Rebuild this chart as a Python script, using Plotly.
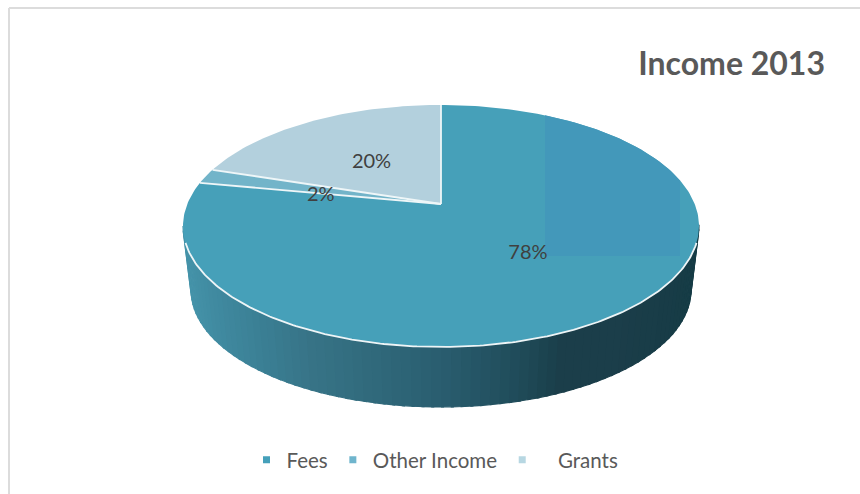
import numpy as np
import plotly.graph_objects as go

# ---- data ----
categories = ["Fees", "Other Income", "Grants"]
values = [78, 2, 20]
slice_colors = ["#46A0B9", "#72B4C9", "#B3D0DD"]
legend_colors = ["#45A0BA", "#6FB5CD", "#B7D7E2"]
legend_names = ["Fees", "Other Income", "\u00a0\u00a0\u00a0Grants"]
title_text = "Income 2013"

# ---- perspective geometry of the drawing (pixel-like axes) ----
CX, APEX_Y = 441.0, 204.0
A, B, K = 253.7, 117.0, 0.1818
DEPTH_CY, DEPTH_RX, DEPTH_RY = 290.0, 250.0, 117.0
FONT = "Lato, Carlito, 'Open Sans', sans-serif"


def project(frac, r=1.0):
    """Percent-of-circle (clockwise from 12 o'clock) to plot coordinates."""
    a = np.asarray(frac) * 2 * np.pi
    u, v = r * np.sin(a), r * np.cos(a)
    d = 1 + K * v
    return CX + A * u / d, APEX_Y - B * v / d


fig = go.Figure()

# ---- side wall: shaded strips under the front edge ----
stops_x = [183, 215, 270, 310, 360, 441, 520, 560, 620, 700]
stops_rgb = [(70, 148, 170), (64, 138, 160), (58, 125, 146), (56, 116, 135), (50, 108, 126),
             (42, 94, 112), (32, 76, 90), (27, 63, 75), (28, 62, 74), (22, 60, 70)]
N = 80
ts = np.linspace(0, np.pi, N + 1)
top_cy, top_rx, top_ry = 226.0, 258.0, 121.0
for t0, t1 in zip(ts[:-1], ts[1:]):
    tt = np.linspace(t0, t1 + 0.01, 3)
    xa = CX - top_rx * np.cos(tt)
    ya = top_cy + top_ry * np.sin(tt)
    xb = CX - DEPTH_RX * np.cos(tt)
    yb = DEPTH_CY + DEPTH_RY * np.sin(tt)
    xm = CX - top_rx * np.cos((t0 + t1) / 2)
    rgb = [np.interp(xm, stops_x, [s[i] for s in stops_rgb]) for i in range(3)]
    col = "rgb(%d,%d,%d)" % tuple(rgb)
    fig.add_trace(go.Scatter(
        x=np.r_[xa, xb[::-1]], y=np.r_[ya, yb[::-1]], mode="lines", fill="toself",
        fillcolor=col, line=dict(width=1.2, color=col), hoverinfo="skip", showlegend=False))

# ---- top face: slices built from the values ----
start = 0.0
total = float(sum(values))
mids = []
for val, col, name in zip(values, slice_colors, categories):
    frac0, frac1 = start, start + val / total
    f = np.linspace(frac0, frac1, max(int((frac1 - frac0) * 360), 4))
    x, y = project(f)
    fig.add_trace(go.Scatter(
        x=np.r_[CX, x, CX], y=np.r_[APEX_Y, y, APEX_Y], mode="lines", fill="toself",
        fillcolor=col, line=dict(color=col, width=0), name=name, hoverinfo="name", showlegend=False))
    mids.append((frac0 + frac1) / 2)
    start = frac1

# slightly bluer rectangular patch on the Fees slice, seen in the picture
px = np.linspace(545, 680, 60)
py = top_cy - top_ry * np.sqrt(1 - ((px - CX) / top_rx) ** 2)
fig.add_trace(go.Scatter(
    x=np.r_[545, px, 680, 545], y=np.r_[256, py, 256, 256], mode="lines", fill="toself",
    fillcolor="#4398BA", line=dict(width=0), hoverinfo="skip", showlegend=False))

# ---- white slice separators and rim highlight ----
start = 0.0
for val in values:
    ex, ey = project(start)
    fig.add_trace(go.Scatter(x=[CX, float(ex)], y=[APEX_Y, float(ey)], mode="lines",
                             line=dict(color="#EEF6F8", width=1.8), hoverinfo="skip", showlegend=False))
    start += val / total
t = np.linspace(0.14, np.pi - 0.14, 200)
fig.add_trace(go.Scatter(x=CX - top_rx * np.cos(t), y=top_cy + top_ry * np.sin(t), mode="lines",
                         line=dict(color="#EEF5F7", width=1.8), hoverinfo="skip", showlegend=False))

# ---- percentage labels ----
lx, ly = project(mids, 0.5)
fig.add_trace(go.Scatter(
    x=lx, y=ly + np.array([2, 6, 3]), mode="text", text=[f"{v}%" for v in values], textposition="middle center",
    textfont=dict(family=FONT, size=20, color="#404040"), hoverinfo="skip", showlegend=False))

# ---- legend ----
for name, col in zip(legend_names, legend_colors):
    fig.add_trace(go.Scatter(x=[None], y=[None], mode="markers", name=name,
                             marker=dict(symbol="square", size=7, color=col)))

fig.update_layout(
    width=860, height=494, margin=dict(l=0, r=0, t=0, b=0),
    paper_bgcolor="white", plot_bgcolor="white",
    xaxis=dict(range=[0, 860], visible=False, fixedrange=True),
    yaxis=dict(range=[494, 0], visible=False, fixedrange=True),
    title=dict(text=f"<b>{title_text}</b>", x=825 / 860, xanchor="right", y=1 - 64 / 494, yanchor="middle",
               font=dict(family=FONT, size=32, color="#595959")),
    legend=dict(orientation="h", x=435 / 860, xanchor="center", y=1 - 460 / 494, yanchor="middle",
                font=dict(family=FONT, size=20.5, color="#595959"), itemwidth=30,
                tracegroupgap=0, bgcolor="rgba(0,0,0,0)"),
    shapes=[
        dict(type="line", xref="paper", yref="paper", x0=9 / 860, x1=9 / 860, y0=0, y1=1 - 8 / 494,
             line=dict(color="#DCDCDC", width=2)),
        dict(type="line", xref="paper", yref="paper", x0=9 / 860, x1=1, y0=1 - 8 / 494, y1=1 - 8 / 494,
             line=dict(color="#DCDCDC", width=2)),
    ],
    showlegend=True,
)

fig.write_html("out.html", config={"displayModeBar": False},
               post_script="document.body.style.margin='0';document.body.style.overflow='hidden';")
